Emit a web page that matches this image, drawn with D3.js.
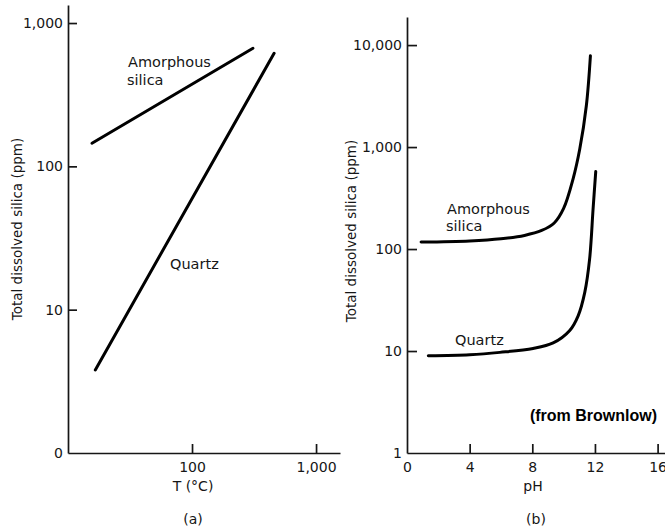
<!DOCTYPE html>
<html>
<head>
<meta charset="utf-8">
<script src="https://cdn.jsdelivr.net/npm/d3@7"></script>
<style>
  body { margin: 0; background: #ffffff; }
  svg { display: block; font-family: "DejaVu Sans", sans-serif; }
  .tick text { font-size: 14px; fill: #161616; }
</style>
</head>
<body>
<div id="chart"></div>
<script>
// panel (a): solubility vs temperature
const tempTicks = [100, 1000];
const leftYTicks = [1, 10, 100, 1000];
const leftYLabels = ["0", "10", "100", "1,000"];
const amorphousTemp = [{ x: 15.6, y: 145 }, { x: 310, y: 666 }];
const quartzTemp = [{ x: 16.6, y: 3.8 }, { x: 459, y: 615 }];

// panel (b): solubility vs pH
const phTicks = [0, 4, 8, 12, 16];
const rightYTicks = [1, 10, 100, 1000, 10000];
const rightYLabels = ["1", "10", "100", "1,000", "10,000"];
const amorphousPH = [
  { x: 0.9, y: 117 }, { x: 4, y: 120 }, { x: 6, y: 126 }, { x: 7.5, y: 136 },
  { x: 8.6, y: 152 }, { x: 9.4, y: 180 }, { x: 10.0, y: 250 }, { x: 10.6, y: 485 },
  { x: 11.03, y: 955 }, { x: 11.45, y: 2540 }, { x: 11.71, y: 7850 }
];
const quartzPH = [
  { x: 1.36, y: 9.0 }, { x: 4, y: 9.2 }, { x: 5.93, y: 9.7 }, { x: 8.05, y: 10.6 },
  { x: 9.33, y: 12 }, { x: 10.39, y: 15.9 }, { x: 10.92, y: 22 }, { x: 11.35, y: 37.6 },
  { x: 11.66, y: 80 }, { x: 11.88, y: 247 }, { x: 12.05, y: 575 }
];

const width = 665, height = 529;
const ink = "#161616";

const svg = d3.select("#chart").append("svg")
  .attr("width", width)
  .attr("height", height);

// scales
const xA = d3.scaleLog().domain([10, 1560]).range([68, 340]);
const yA = d3.scaleLog().domain([1, 1336]).range([453, 5]);
const xB = d3.scaleLinear().domain([0, 16.6]).range([407, 667]);
const yB = d3.scaleLog().domain([1, 18850]).range([453, 17]);

function styleAxis(g, hideFirst) {
  g.select(".domain").attr("stroke", ink).attr("stroke-width", 1.7);
  g.selectAll(".tick line").attr("stroke", ink).attr("stroke-width", 1.7);
  if (hideFirst) g.select(".tick line").remove();
  g.selectAll(".tick text").attr("font-family", "DejaVu Sans, sans-serif");
}

// panel (a) axes
svg.append("g")
  .attr("transform", `translate(0,${yA.range()[0]})`)
  .call(d3.axisBottom(xA).tickValues(tempTicks).tickSize(-9).tickSizeOuter(0)
    .tickPadding(9).tickFormat(d3.format(",")))
  .call(g => styleAxis(g, false));

svg.append("g")
  .attr("transform", `translate(${xA.range()[0]},0)`)
  .call(d3.axisLeft(yA).tickValues(leftYTicks).tickSize(-9).tickSizeOuter(0)
    .tickPadding(5).tickFormat((d, i) => leftYLabels[i]))
  .call(g => styleAxis(g, true));

// panel (b) axes
svg.append("g")
  .attr("transform", `translate(0,${yB.range()[0]})`)
  .call(d3.axisBottom(xB).tickValues(phTicks).tickSize(-9).tickSizeOuter(0)
    .tickPadding(9))
  .call(g => styleAxis(g, true));

svg.append("g")
  .attr("transform", `translate(${xB.range()[0]},0)`)
  .call(d3.axisLeft(yB).tickValues(rightYTicks).tickSize(-10).tickSizeOuter(0)
    .tickPadding(5).tickFormat((d, i) => rightYLabels[i]))
  .call(g => styleAxis(g, true));

// curves
const lineA = d3.line().x(d => xA(d.x)).y(d => yA(d.y));
const lineB = d3.line().x(d => xB(d.x)).y(d => yB(d.y)).curve(d3.curveCatmullRom.alpha(0.5));

[[lineA, amorphousTemp], [lineA, quartzTemp], [lineB, amorphousPH], [lineB, quartzPH]]
  .forEach(([gen, data]) => {
    svg.append("path")
      .attr("d", gen(data))
      .attr("fill", "none")
      .attr("stroke", "#000")
      .attr("stroke-width", 3)
      .attr("stroke-linecap", "round");
  });

// text labels
function label(x, y, txt, opts = {}) {
  const t = svg.append("text")
    .attr("x", x).attr("y", y)
    .attr("fill", opts.fill || ink)
    .attr("font-size", opts.size || 14)
    .attr("text-anchor", opts.anchor || "start")
    .text(txt);
  if (opts.rotate) t.attr("transform", `rotate(-90,${x},${y})`);
  if (opts.family) t.attr("font-family", opts.family);
  if (opts.weight) t.attr("font-weight", opts.weight);
  return t;
}

label(128, 67, "Amorphous", { size: 14.5 });
label(127, 85, "silica", { size: 14.5 });
label(170, 269, "Quartz", { size: 14.5 });
label(447, 214, "Amorphous", { size: 14.5 });
label(446, 231, "silica", { size: 14.5 });
label(455, 345, "Quartz", { size: 14.5 });

label(193, 491, "T (°C)", { anchor: "middle" });
label(193, 524, "(a)", { anchor: "middle" });
label(533, 491, "pH", { anchor: "middle" });
label(536, 524, "(b)", { anchor: "middle" });

label(22, 229, "Total dissolved silica (ppm)", { anchor: "middle", rotate: true, size: 13.5 });
label(356, 231, "Total dissolved silica (ppm)", { anchor: "middle", rotate: true, size: 13.5 });

label(657, 421, "(from Brownlow)", {
  anchor: "end", size: 16, weight: "bold", fill: "#000",
  family: "Liberation Sans, Arial, sans-serif"
});
</script>
</body>
</html>
